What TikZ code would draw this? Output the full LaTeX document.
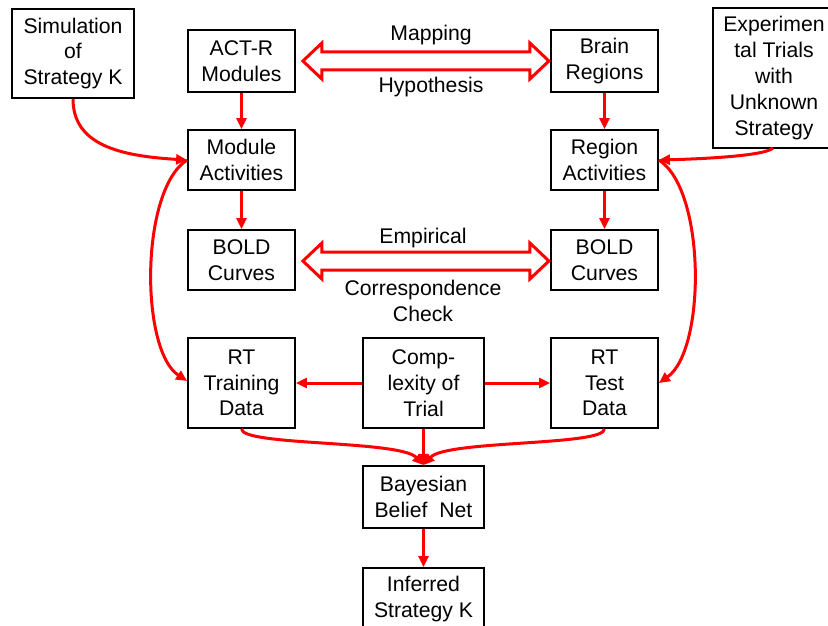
\documentclass[tikz,border=0pt]{standalone}
\usepackage{fontspec}
\setmainfont{Liberation Sans}
\usetikzlibrary{arrows.meta,calc}

\tikzset{
  box/.style={draw=black, line width=1.8pt, fill=white, align=center,
    inner sep=0pt, font=\fontsize{21.2}{25.8}\selectfont},
  conn/.style={draw=red, line width=3pt,
    -{Triangle[length=11pt,width=10pt]}},
  dbl/.style={draw=red, line width=3pt, fill=white, line join=miter},
  lbl/.style={font=\fontsize{21.2}{25.8}\selectfont, align=center, inner sep=0pt}
}

\begin{document}
\begin{tikzpicture}[x=1pt, y=-1pt]
  \useasboundingbox (0,0) rectangle (828,626);

  % boxes
  \node[box, minimum width=122pt, minimum height=89pt]  (sim)     at (73,53.5)   {Simulation\\of\\Strategy K};
  \node[box, minimum width=107pt, minimum height=62pt]  (actr)    at (241.5,61)  {ACT-R\\Modules};
  \node[box, minimum width=107pt, minimum height=62pt]  (brain)   at (604.5,61)  {Brain\\Regions};
  \node[box, minimum width=122pt, minimum height=140pt] (exper)   at (774,78)    {Experimen\\tal Trials\\with\\Unknown\\Strategy};
  \node[box, minimum width=107pt, minimum height=60pt]  (modact)  at (241.5,160) {Module\\Activities};
  \node[box, minimum width=107pt, minimum height=60pt]  (regact)  at (604.5,160) {Region\\Activities};
  \node[box, minimum width=107pt, minimum height=60pt]  (boldL)   at (241.5,260) {BOLD\\Curves};
  \node[box, minimum width=107pt, minimum height=60pt]  (boldR)   at (604.5,260) {BOLD\\Curves};
  \node[box, minimum width=107pt, minimum height=90pt]  (rttrain) at (241.5,383) {RT\\Training\\Data};
  \node[box, minimum width=121pt, minimum height=90pt]  (cplx)    at (423.5,383) {Comp-\\lexity of\\Trial};
  \node[box, minimum width=107pt, minimum height=90pt]  (rttest)  at (604.5,383) {RT\\Test\\Data};
  \node[box, minimum width=121pt, minimum height=62pt]  (bayes)   at (423.5,497) {Bayesian\\Belief~ Net};
  \node[box, minimum width=121pt, minimum height=62pt]  (infer)   at (423.5,599) {Inferred\\Strategy K};

  % double arrows between model and brain
  \draw[dbl] ([xshift=7pt]actr.east) -- ++(19,-18) -- ++(0,9) -- ++(208,0) -- ++(0,-9)
    -- ++(19,18) -- ++(-19,18) -- ++(0,-9) -- ++(-208,0) -- ++(0,9) -- cycle;
  \draw[dbl] ([xshift=7pt,yshift=-1pt]boldL.east) -- ++(19,-18) -- ++(0,9) -- ++(208,0) -- ++(0,-9)
    -- ++(19,18) -- ++(-19,18) -- ++(0,-9) -- ++(-208,0) -- ++(0,9) -- cycle;

  \node[lbl] (map)  at (431,35)  {Mapping};
  \node[lbl] (hyp)  at (431,87)  {Hypothesis};
  \node[lbl] (emp)  at (423,238) {Empirical};
  \node[lbl] (corr) at (423,301) {Correspondence\\Check};

  % straight connectors
  \draw[conn] (actr) -- (modact);
  \draw[conn] (modact) -- (boldL);
  \draw[conn] (brain) -- (regact);
  \draw[conn] (regact) -- (boldR);
  \draw[conn] (cplx.west) -- (rttrain.east);
  \draw[conn] (cplx.east) -- (rttest.west);
  \draw[conn] (cplx.south) -- (bayes.north);
  \draw[conn] (bayes) -- (infer);

  % curved connectors
  \draw[conn] (sim.south) .. controls (73,145) and (120,156) .. (modact.west);
  \coordinate (expfoot) at (773,148);
  \draw[conn] (expfoot) .. controls (765,156) and (700,159) .. (regact.east);
  \draw[conn] (modact.west) .. controls (140,190) and (140,350) .. ([yshift=2pt]rttrain.west);
  \draw[conn] (regact.east) .. controls (706,190) and (706,350) .. (rttest.east);
  \draw[conn] (rttrain.south) .. controls (241.5,446) and (400,440) .. (bayes.north);
  \draw[conn] (rttest.south) .. controls (604.5,446) and (446,440) .. (bayes.north);
\end{tikzpicture}
\end{document}
